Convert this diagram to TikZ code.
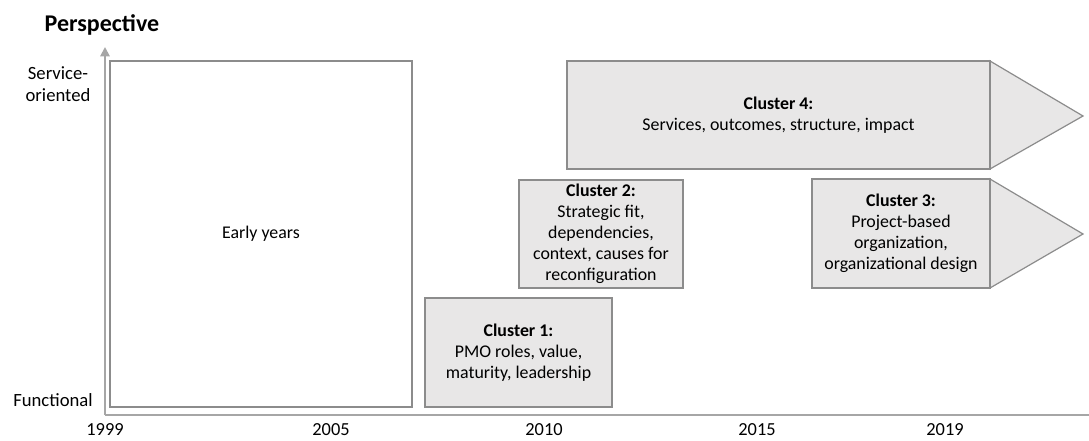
\documentclass[tikz,border=0pt]{standalone}
\usepackage{fontspec}
\setmainfont{Carlito}
\usepackage{tikz}
\usetikzlibrary{positioning,arrows.meta,calc}

\begin{document}
\begin{tikzpicture}[
	x=0.75pt, y=-0.75pt,
	cluster/.style={rectangle, draw=boxgray, line width=0.9pt, fill=clfill,
		align=center, inner sep=0pt, font=\fontsize{13.4}{15.8}\selectfont},
	early/.style={cluster, fill=white},
	pointer/.style={draw=boxgray, line width=0.9pt, fill=clfill, line join=miter},
	axis/.style={draw=axisgray, line width=1.4pt},
	axlabel/.style={align=center, inner sep=0pt, font=\fontsize{14}{16.5}\selectfont},
	year/.style={inner sep=0pt, font=\fontsize{13.8}{16}\selectfont}
	]
	\definecolor{boxgray}{HTML}{8C8C8C}
	\definecolor{axisgray}{HTML}{A6A6A6}
	\definecolor{clfill}{HTML}{E8E7E7}
	\useasboundingbox (0,0) rectangle (1089,441);
	% axes
	\coordinate (o) at (105,415);
	\coordinate (ytop) at (105,47);
	\coordinate (xend) at (1089,415);
	\draw[axis, -{Triangle[length=7pt, width=7pt]}] (o) -- (ytop);
	\draw[axis] (o) -- (xend);
	\node (persp) [inner sep=0pt, font=\fontsize{18}{20}\selectfont\bfseries] at (102,25) {Perspective};
	\node (serv) [axlabel] at (58,84) {Service-\\oriented};
	\node (func) [axlabel] at (53,400) {Functional};
	% years
	\node (y1999) [year] at (105,430) {1999};
	\node (y2005) [year] at (331,430) {2005};
	\node (y2010) [year] at (544,430) {2010};
	\node (y2015) [year] at (757,430) {2015};
	\node (y2019) [year] at (945,430) {2019};
	% clusters
	\node (e) [early, minimum width=226.5pt, minimum height=259.5pt] at (261,234) {Early years};
	\node (c1) [cluster, minimum width=140.25pt, minimum height=81.75pt] at (518.5,352.5)
		{\textbf{Cluster 1:}\\PMO roles, value,\\maturity, leadership};
	\node (c2) [cluster, minimum width=123pt, minimum height=81pt] at (601,234)
		{\textbf{Cluster 2:}\\Strategic fit,\\dependencies,\\context, causes for\\reconfiguration};
	\draw[pointer] (990,179) -- (1083,234) -- (990,288) -- cycle;
	\node (c3) [cluster, minimum width=133.5pt, minimum height=81.75pt] at (901,233.5)
		{\textbf{Cluster 3:}\\Project-based\\organization,\\organizational design};
	\draw[pointer] (990,61) -- (1083,116) -- (990,169) -- cycle;
	\node (c4) [cluster, minimum width=317.25pt, minimum height=81pt] at (778.5,115)
		{\textbf{Cluster 4:}\\Services, outcomes, structure, impact};
\end{tikzpicture}
\end{document}
